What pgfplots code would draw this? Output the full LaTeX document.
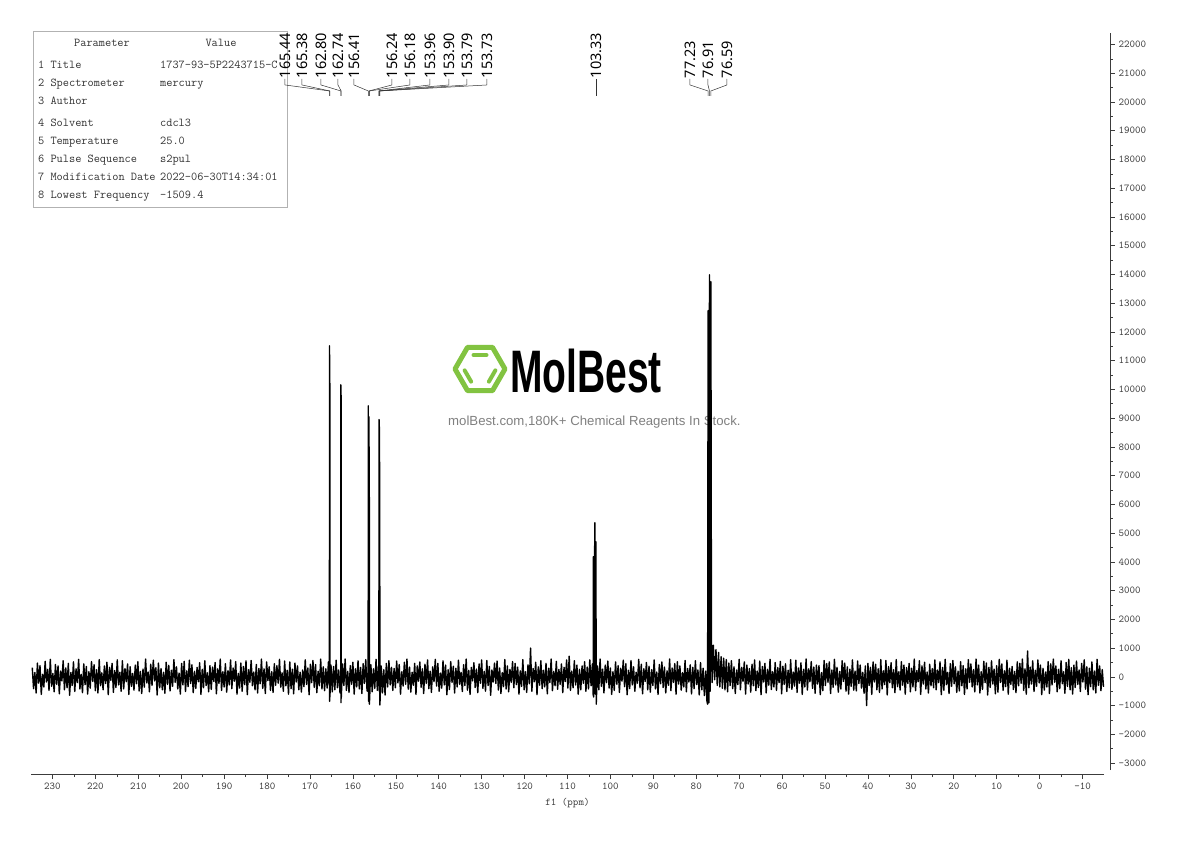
\documentclass[border=0pt]{standalone}
\usepackage{pgfplots}
\pgfplotsset{compat=1.18}
\usepackage{fontspec}
\newfontfamily\labfont{Noto Sans}
\newfontfamily\arialfont{Liberation Sans}
\definecolor{molgreen}{RGB}{130,195,65}
\definecolor{axgray}{RGB}{60,60,60}
\newcommand{\plab}[2]{%
 \draw[black!80, line width=0.5pt] (axis cs:#1,20801) -- (axis cs:#1,20592) -- (axis cs:#2,20383) -- (axis cs:#2,20209);
 \node[rotate=90, anchor=west, inner sep=0.5pt, font=\labfont\fontsize{14.5}{15}\selectfont] at (axis cs:#1,20801) {#2};
}
\begin{document}
\begin{tikzpicture}
\path[use as bounding box] (0,0) rectangle (1190pt,841pt);
% watermark
\begin{scope}[shift={(480pt,472pt)}]
\draw[molgreen, line width=5pt, line join=round] (0:25pt) -- (60:25pt) -- (120:25pt) -- (180:25pt) -- (240:25pt) -- (300:25pt) -- cycle;
\foreach \a in {0,120,240} \draw[molgreen, line width=4pt, line cap=round, rotate=\a] (-6.5pt,14pt) -- (6.5pt,14pt);
\end{scope}
\node[anchor=base west, inner sep=0pt, font=\arialfont\bfseries\fontsize{60}{60}\selectfont] at (510pt,448pt) {\scalebox{0.65}[1]{MolBest}};
\node[anchor=base west, inner sep=0pt, text=gray, font=\arialfont\fontsize{13.2}{15}\selectfont] at (448pt,415pt) {molBest.com,180K+ Chemical Reagents In Stock.};
% parameter table
\draw[gray!60, line width=0.6pt] (33pt,634pt) rectangle (287pt,810pt);
\begin{scope}[every node/.style={inner sep=0pt, font=\ttfamily\fontsize{12}{14}\selectfont, text=black!80}]
\node[anchor=base] at (102pt,794pt) {Parameter};
\node[anchor=base] at (221pt,794pt) {Value};
\node[anchor=base west] at (38pt,772pt) {1 Title};
\node[anchor=base west] at (38pt,754pt) {2 Spectrometer};
\node[anchor=base west] at (38pt,736pt) {3 Author};
\node[anchor=base west] at (38pt,714pt) {4 Solvent};
\node[anchor=base west] at (38pt,696pt) {5 Temperature};
\node[anchor=base west] at (38pt,678pt) {6 Pulse Sequence};
\node[anchor=base west] at (38pt,660pt) {7 Modification Date};
\node[anchor=base west] at (38pt,642pt) {8 Lowest Frequency};
\begin{scope}
\clip (33pt,634pt) rectangle (287pt,810pt);
\node[anchor=base west] at (160pt,772pt) {1737-93-5P2243715-C};
\end{scope}
\node[anchor=base west] at (160pt,754pt) {mercury};
\node[anchor=base west] at (160pt,714pt) {cdcl3};
\node[anchor=base west] at (160pt,696pt) {25.0};
\node[anchor=base west] at (160pt,678pt) {s2pul};
\node[anchor=base west] at (160pt,660pt) {2022-06-30T14:34:01};
\node[anchor=base west] at (160pt,642pt) {-1509.4};
\end{scope}
% main axis with spectrum and y axis
\begin{axis}[
  at={(31pt,71pt)}, anchor=south west, scale only axis,
  width=1079pt, height=737pt,
  x dir=reverse, xmin=-16.4, xmax=235,
  ymin=-3240, ymax=22400,
  axis x line=none, axis y line=right,
  axis line style={-, axgray, line width=0.8pt},
  ytick={-3000,-2000,...,22000}, minor y tick num=1,
  tick align=outside, major tick length=5pt, minor tick length=3pt,
  tick style={axgray, line width=0.6pt},
  scaled y ticks=false,
  /pgf/number format/assume math mode=true,
  /pgf/number format/1000 sep={},
  yticklabel style={font=\ttfamily\fontsize{10.5}{12}\selectfont, text=axgray},
  clip=false,
]
\addplot[black, line width=1.4pt, line join=round] coordinates {
(234.7,320)(234.4,-410)(234.1,150)(233.8,-560)(233.5,480)(233.2,-220)(232.9,390)(232.6,-610)(232.3,90)(232.0,-350)
(231.7,540)(231.4,-180)(231.1,260)(230.8,-470)(230.5,610)(230.2,-330)(229.9,120)(229.6,-520)(229.3,430)(229.0,-260)
(228.7,380)(228.4,-590)(228.1,200)(227.8,-140)(227.5,560)(227.2,-450)(226.9,310)(226.6,-380)(226.3,470)(226.0,-640)
(225.7,150)(225.4,-300)(225.1,520)(224.8,-510)(224.5,280)(224.2,-200)(223.9,610)(223.6,-420)(223.3,90)(223.0,-550)
(222.7,450)(222.4,-270)(222.1,360)(221.8,-600)(221.5,180)(221.2,-390)(220.9,530)(220.6,-160)(220.3,420)(220.0,-480)
(219.7,250)(219.4,-560)(219.1,600)(218.8,-310)(218.5,140)(218.2,-450)(217.9,380)(217.6,-230)(217.3,510)(217.0,-620)
(216.7,330)(216.4,-120)(216.1,470)(215.8,-540)(215.5,220)(215.2,-370)(214.9,590)(214.6,-280)(214.3,160)(214.0,-500)
(213.7,560)(213.4,-420)(213.1,290)(212.8,-170)(212.5,450)(212.2,-610)(211.9,350)(211.6,-330)(211.3,120)(211.0,-460)
(210.7,410)(210.4,-240)(210.1,530)(209.8,-490)(209.5,190)(209.2,-580)(208.9,270)(208.6,-360)(208.3,620)(208.0,-210)
(207.7,170)(207.4,-520)(207.1,440)(206.8,-300)(206.5,580)(206.2,-140)(205.9,320)(205.6,-630)(205.3,480)(205.0,-380)
(204.7,290)(204.4,-450)(204.1,160)(203.8,-570)(203.5,510)(203.2,-260)(202.9,400)(202.6,-490)(202.3,230)(202.0,-330)
(201.7,600)(201.4,-190)(201.1,350)(200.8,-420)(200.5,130)(200.2,-600)(199.9,470)(199.6,-280)(199.3,540)(199.0,-510)
(198.7,210)(198.4,-340)(198.1,580)(197.8,-230)(197.5,420)(197.2,-550)(196.9,190)(196.6,-400)(196.3,330)(196.0,-170)
(195.7,490)(195.4,-610)(195.1,260)(194.8,-380)(194.5,560)(194.2,-300)(193.9,140)(193.6,-520)(193.3,390)(193.0,-440)
(192.7,340)(192.4,-160)(192.1,500)(191.8,-590)(191.5,280)(191.2,-230)(190.9,620)(190.6,-470)(190.3,180)(190.0,-350)
(189.7,460)(189.4,-530)(189.1,220)(188.8,-280)(188.5,590)(188.2,-410)(187.9,310)(187.6,-150)(187.3,530)(187.0,-600)
(186.7,120)(186.4,-390)(186.1,480)(185.8,-500)(185.5,360)(185.2,-270)(184.9,560)(184.6,-620)(184.3,250)(184.0,-190)
(183.7,570)(183.4,-310)(183.1,170)(182.8,-450)(182.5,430)(182.2,-560)(181.9,290)(181.6,-240)(181.3,620)(181.0,-400)
(180.7,280)(180.4,-580)(180.1,520)(179.8,-130)(179.5,350)(179.2,-470)(178.9,180)(178.6,-540)(178.3,460)(178.0,-290)
(177.7,390)(177.4,-220)(177.1,610)(176.8,-360)(176.5,140)(176.2,-500)(175.9,550)(175.6,-310)(175.3,230)(175.0,-600)
(174.7,520)(174.4,-410)(174.1,270)(173.8,-590)(173.5,480)(173.2,-180)(172.9,380)(172.6,-450)(172.3,160)(172.0,-530)
(171.7,240)(171.4,-340)(171.1,590)(170.8,-260)(170.5,310)(170.2,-620)(169.9,440)(169.6,-200)(169.3,570)(169.0,-370)
(168.7,430)(168.4,-550)(168.1,200)(167.8,-310)(167.5,620)(167.2,-420)(166.9,350)(166.6,-480)(166.3,280)(166.0,-390)
(165.7,520)(165.5,-300)(165.47,-200)(165.44,11520)(165.41,-850)(165.38,11200)(165.35,-700)(165.1,410)(164.8,-520)(164.5,360)
(164.2,-450)(163.9,580)(163.6,-380)(163.3,240)(163.0,-560)(162.83,-300)(162.80,10160)(162.77,-900)(162.74,9800)(162.71,-750)
(162.4,450)(162.1,-300)(161.8,620)(161.5,-470)(161.2,190)(160.9,-540)(160.6,390)(160.3,-260)(160.0,510)(159.7,-600)
(159.4,280)(159.1,-350)(158.8,560)(158.5,-420)(158.2,330)(157.9,-580)(157.6,460)(157.3,-230)(157.0,600)(156.7,-490)
(156.44,-500)(156.41,9430)(156.33,-850)(156.24,9050)(156.21,-400)(156.18,8000)(156.15,-950)(155.8,420)(155.5,-520)(155.2,280)
(154.9,-400)(154.6,610)(154.3,-470)(154.05,350)(153.99,-300)(153.96,3000)(153.93,-200)(153.90,8950)(153.85,-500)(153.79,8700)
(153.76,-300)(153.73,3500)(153.70,-980)(153.4,380)(153.1,-560)(152.8,250)(152.5,-630)(152.2,470)(151.9,-350)(151.6,560)
(151.3,-280)(151.0,330)
(150.7,-470)(150.4,290)(150.1,-380)(149.8,550)(149.5,-210)(149.2,430)(148.9,-600)(148.6,180)(148.3,-320)(148.0,510)
(147.7,-260)(147.4,620)(147.1,-430)(146.8,340)(146.5,-530)(146.2,160)(145.9,-290)(145.6,470)(145.3,-610)(145.0,380)
(144.7,-150)(144.4,520)(144.1,-360)(143.8,280)(143.5,-580)(143.2,440)(142.9,-230)(142.6,590)(142.3,-410)(142.0,200)
(141.7,-540)(141.4,350)(141.1,-170)(140.8,610)(140.5,-320)(140.2,470)(139.9,-500)(139.6,130)(139.3,-390)(139.0,560)
(138.7,-280)(138.4,410)(138.1,-620)(137.8,250)(137.5,-440)(137.2,530)(136.9,-190)(136.6,370)(136.3,-560)(136.0,300)
(135.7,-350)(135.4,580)(135.1,-260)(134.8,160)(134.5,-510)(134.2,420)(133.9,-300)(133.6,620)(133.3,-460)(133.0,230)
(132.7,-610)(132.4,330)(132.1,-140)(131.8,490)(131.5,-370)(131.2,270)(130.9,-550)(130.6,450)(130.3,-220)(130.0,590)
(129.7,-400)(129.4,190)(129.1,-500)(128.8,570)(128.5,-300)(128.2,360)(127.9,-640)(127.6,240)(127.3,-180)(127.0,480)
(126.7,-230)(126.4,550)(126.1,-460)(125.8,310)(125.5,-580)(125.2,150)(124.9,-340)(124.6,600)(124.3,-420)(124.0,380)
(123.7,-520)(123.4,260)(123.1,-190)(122.8,530)(122.5,-380)(122.2,470)(121.9,-270)(121.6,340)(121.3,-600)(121.0,210)
(120.7,-330)(120.4,600)(120.1,-450)(119.8,180)(119.5,-540)(119.2,420)(118.9,-240)(118.6,1000)(118.3,-500)(118.0,290)
(117.7,-170)(117.4,510)(117.1,-620)(116.8,350)(116.5,-290)(116.2,560)(115.9,-410)(115.6,230)(115.3,-350)(115.0,470)
(114.7,-590)(114.4,300)(114.1,-200)(113.8,620)(113.5,-480)(113.2,190)(112.9,-310)(112.6,540)(112.3,-430)(112.0,260)
(111.7,-260)(111.4,450)(111.1,-550)(110.8,330)(110.5,-160)(110.2,590)(109.9,-390)(109.6,720)(109.3,-470)(109.0,200)
(108.7,-380)(108.4,560)(108.1,-280)(107.8,410)(107.5,-600)(107.2,260)(106.9,-450)(106.6,380)(106.3,-220)(106.0,530)
(105.7,-500)(105.4,340)(105.1,-420)(104.8,590)(104.5,-310)(104.2,450)(104.0,-650)(103.95,4180)(103.9,-700)(103.62,5360)
(103.5,-600)(103.38,4700)(103.3,-950)(103.0,380)
(102.7,-450)(102.4,620)(102.1,-330)(101.8,270)(101.5,-560)(101.2,410)(100.9,-200)(100.6,550)(100.3,-390)(100.0,310)
(99.7,-610)(99.4,180)(99.1,-470)(98.8,520)(98.5,-260)(98.2,390)(97.9,-540)(97.6,300)(97.3,-150)(97.0,580)
(96.7,-340)(96.4,460)(96.1,-620)(95.8,230)(95.5,-410)(95.2,570)(94.9,-280)(94.6,350)(94.3,-500)(94.0,160)
(93.7,-220)(93.4,610)(93.1,-380)(92.8,440)(92.5,-590)(92.2,280)(91.9,-160)(91.6,500)(91.3,-450)(91.0,370)
(90.7,-530)(90.4,250)(90.1,-300)(89.8,590)(89.5,-420)(89.2,170)(88.9,-610)(88.6,430)(88.3,-240)(88.0,520)
(87.7,-370)(87.4,340)(87.1,-560)(86.8,210)(86.5,-290)(86.2,620)(85.9,-480)(85.6,310)(85.3,-190)(85.0,460)
(84.7,-600)(84.4,530)(84.1,-250)(83.8,380)(83.5,-460)(83.2,150)(82.9,-350)(82.6,570)(82.3,-520)(82.0,290)
(81.7,-180)(81.4,420)(81.1,-590)(80.8,330)(80.5,-410)(80.2,560)(79.9,-270)(79.6,240)(79.3,-630)(79.0,500)
(78.7,-450)(78.4,300)(78.1,-650)(77.8,200)(77.5,-850)(77.35,-950)(77.23,12740)(77.07,-900)(76.91,13990)(76.75,-500)
(76.59,13750)(76.45,1300)(76.3,-200)(76.0,1100)
(75.7,-100)(75.4,950)(75.1,-300)(74.8,850)(74.5,-350)(74.2,700)(73.9,-400)(73.6,650)(73.3,-450)(73.0,600)
(72.7,-520)(72.4,480)(72.1,-300)(71.8,560)(71.5,-410)(71.2,350)(70.9,-580)(70.6,240)(70.3,-270)(70.0,610)
(69.7,-450)(69.4,330)(69.1,-160)(68.8,520)(68.5,-600)(68.2,410)(67.9,-250)(67.6,290)(67.3,-530)(67.0,440)
(66.7,-310)(66.4,590)(66.1,-480)(65.8,200)(65.5,-370)(65.2,550)(64.9,-620)(64.6,360)(64.3,-180)(64.0,470)
(63.7,-560)(63.4,260)(63.1,-290)(62.8,610)(62.5,-440)(62.2,180)(61.9,-350)(61.6,500)(61.3,-470)(61.0,320)
(60.7,-200)(60.4,540)(60.1,-590)(59.8,370)(59.5,-260)(59.2,450)(58.9,-510)(58.6,230)(58.3,-380)(58.0,600)
(57.7,-430)(57.4,170)(57.1,-320)(56.8,580)(56.5,-540)(56.2,310)(55.9,-220)(55.6,490)(55.3,-610)(55.0,260)
(54.7,-350)(54.4,620)(54.1,-460)(53.8,280)(53.5,-170)(53.2,530)(52.9,-400)(52.6,340)(52.3,-570)(52.0,410)
(51.7,-250)(51.4,390)(51.1,-620)(50.8,150)(50.5,-480)(50.2,570)(49.9,-300)(49.6,460)(49.3,-190)(49.0,520)
(48.7,-580)(48.4,240)(48.1,-360)(47.8,610)(47.5,-280)(47.2,330)(46.9,-530)(46.6,190)(46.3,-420)(46.0,560)
(45.7,-160)(45.4,480)(45.1,-500)(44.8,350)(44.5,-600)(44.2,270)(43.9,-330)(43.6,590)(43.3,-460)(43.0,200)
(42.7,-490)(42.4,550)(42.1,-230)(41.8,410)(41.5,-390)(41.2,160)(40.9,-570)(40.6,380)(40.3,-1000)(40.0,470)
(39.7,-300)(39.4,330)(39.1,-610)(38.8,520)(38.5,-180)(38.2,440)(37.9,-450)(37.6,280)(37.3,-540)(37.0,600)
(36.7,-420)(36.4,210)(36.1,-270)(35.8,570)(35.5,-630)(35.2,360)(34.9,-200)(34.6,490)(34.3,-380)(34.0,250)
(33.7,-550)(33.4,600)(33.1,-340)(32.8,180)(32.5,-460)(32.2,530)(31.9,-290)(31.6,410)(31.3,-600)(31.0,320)
(30.7,-230)(30.4,470)(30.1,-520)(29.8,300)(29.5,-350)(29.2,620)(28.9,-480)(28.6,220)(28.3,-170)(28.0,560)
(27.7,-610)(27.4,380)(27.1,-250)(26.8,510)(26.5,-420)(26.2,170)(25.9,-560)(25.6,440)(25.3,-310)(25.0,290)
(24.7,-380)(24.4,590)(24.1,-450)(23.8,240)(23.5,-200)(23.2,520)(22.9,-620)(22.6,330)(22.3,-470)(22.0,610)
(21.7,-270)(21.4,160)(21.1,-580)(20.8,460)(20.5,-330)(20.2,570)(19.9,-240)(19.6,350)(19.3,-540)(19.0,200)
(18.7,-490)(18.4,530)(18.1,-310)(17.8,390)(17.5,-610)(17.2,280)(16.9,-420)(16.6,600)(16.3,-190)(16.0,450)
(15.7,-350)(15.4,250)(15.1,-520)(14.8,620)(14.5,-280)(14.2,410)(13.9,-560)(13.6,180)(13.3,-440)(13.0,540)
(12.7,-200)(12.4,480)(12.1,-630)(11.8,330)(11.5,-370)(11.2,560)(10.9,-250)(10.6,270)(10.3,-590)(10.0,390)
(9.7,-530)(9.4,610)(9.1,-190)(8.8,450)(8.5,-470)(8.2,210)(7.9,-340)(7.6,580)(7.3,-600)(7.0,300)
(6.7,-260)(6.4,360)(6.1,-440)(5.8,190)(5.5,-550)(5.2,520)(4.9,-310)(4.6,470)(4.3,-220)(4.0,620)
(3.7,-470)(3.4,280)(3.1,-600)(2.8,900)(2.5,-380)(2.2,340)(1.9,-250)(1.6,560)(1.3,-510)(1.0,230)
(0.7,-330)(0.4,590)(0.1,-210)(-0.2,410)(-0.5,-620)(-0.8,300)(-1.1,-460)(-1.4,170)(-1.7,-350)(-2.0,530)
(-2.3,-580)(-2.6,450)(-2.9,-280)(-3.2,620)(-3.5,-190)(-3.8,380)(-4.1,-520)(-4.4,260)(-4.7,-410)(-5.0,560)
(-5.3,-240)(-5.6,180)(-5.9,-570)(-6.2,500)(-6.5,-330)(-6.8,610)(-7.1,-450)(-7.4,320)(-7.7,-600)(-8.0,410)
(-8.3,-370)(-8.6,550)(-8.9,-260)(-9.2,240)(-9.5,-510)(-9.8,470)(-10.1,-180)(-10.4,590)(-10.7,-430)(-11.0,350)
(-11.3,-620)(-11.6,300)(-11.9,-340)(-12.2,520)(-12.5,-450)(-12.8,200)(-13.1,-560)(-13.4,610)(-13.7,-290)(-14.0,380)
(-14.3,-480)(-14.6,250)(-14.9,-350)
};
\plab{175.82}{165.44}
\plab{171.86}{165.38}
\plab{167.43}{162.80}
\plab{163.47}{162.74}
\plab{159.74}{156.41}
\plab{150.89}{156.24}
\plab{146.70}{156.18}
\plab{142.04}{153.96}
\plab{137.61}{153.90}
\plab{133.42}{153.79}
\plab{128.76}{153.73}
\plab{103.33}{103.33}
\plab{81.46}{77.23}
\plab{77.26}{76.91}
\plab{72.84}{76.59}
\end{axis}
% x axis
\begin{axis}[
  at={(31pt,67pt)}, anchor=south west, scale only axis,
  width=1073pt, height=20pt,
  x dir=reverse, xmin=-15, xmax=235, ymin=0, ymax=1,
  axis x line=bottom, hide y axis,
  axis line style={-, axgray, line width=0.8pt},
  xtick={-10,0,...,230}, minor x tick num=1,
  tick align=outside, major tick length=5pt, minor tick length=3pt,
  tick style={axgray, line width=0.6pt},
  /pgf/number format/assume math mode=true,
  xticklabel style={font=\ttfamily\fontsize{10.5}{12}\selectfont, text=axgray},
  xlabel={f1 (ppm)},
  xlabel style={font=\ttfamily\fontsize{10.5}{12}\selectfont, text=axgray, at={(axis description cs:0.5,0)}, anchor=north, yshift=-21pt},
]
\end{axis}
\end{tikzpicture}
\end{document}
